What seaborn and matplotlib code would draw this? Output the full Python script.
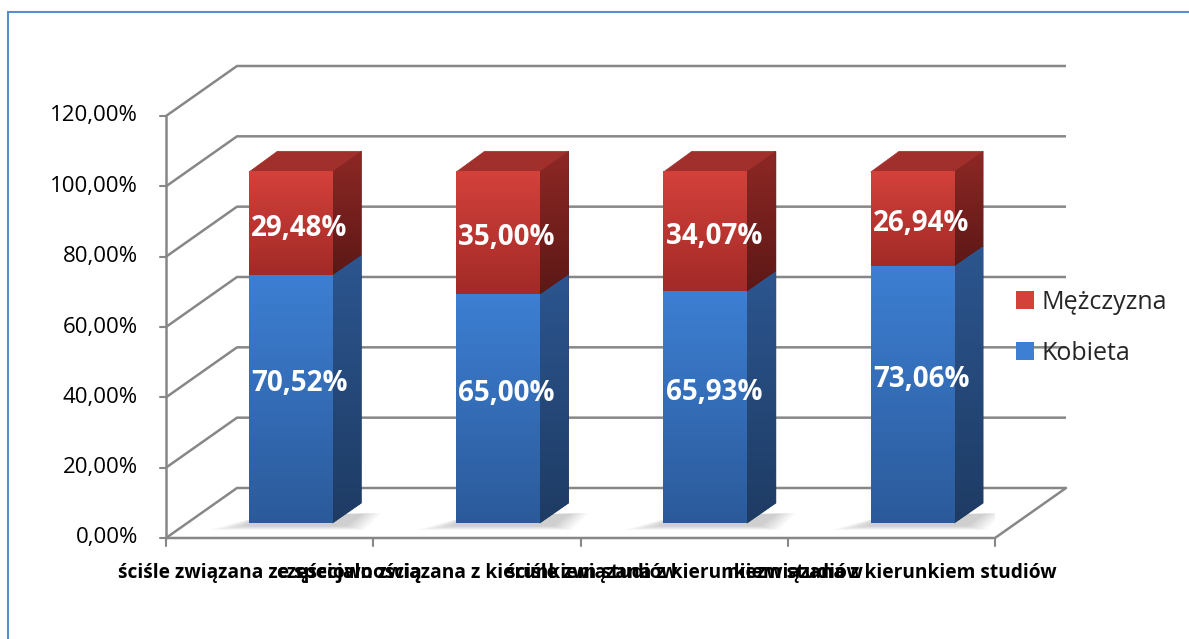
import numpy as np
import pandas as pd
import seaborn as sns
import matplotlib.pyplot as plt
from matplotlib.patches import Polygon, Rectangle, Patch
from matplotlib.colors import LinearSegmentedColormap

# chart data
categories = [
    "ściśle związana ze specjalnością",
    "częściowo związana z kierunkiem studiów",
    "ściśle związana z kierunkiem studiów",
    "niezwiązana z kierunkiem studiów",
]
kobieta = [70.52, 65.00, 65.93, 73.06]
mezczyzna = [29.48, 35.00, 34.07, 26.94]
y_ticks = [0, 20, 40, 60, 80, 100, 120]
series_names = ["Mężczyzna", "Kobieta"]

df = pd.DataFrame({"cat": categories, "kobieta": kobieta, "mezczyzna": mezczyzna})
df["total"] = df["kobieta"] + df["mezczyzna"]

# 3d look: depth offset of the back wall in data units
DX = 0.3426
DY = 14.22
BAR_W = 0.405
D0, D1 = 0.3, 0.7  # bar depth range

RED_TOP, RED_BOT = "#d4413b", "#a22a27"
RED_SIDE_T, RED_SIDE_B = "#8e2825", "#5c1816"
RED_ROOF = "#a1302d"
BLUE_TOP, BLUE_BOT = "#3d7fd3", "#2b5a9a"
BLUE_SIDE_T, BLUE_SIDE_B = "#2c5690", "#1e3b63"
GRID = "#878787"

sns.set_style("white")
plt.rcParams["font.family"] = ["Open Sans", "DejaVu Sans"]

fig = plt.figure(figsize=(11.89, 6.39), dpi=100)
ax = fig.add_axes([166 / 1189, 101 / 639, 829 / 1189, 422 / 639])


def grad_poly(pts, c_top, c_bot, z, clip=None):
    if clip is None:
        clip = Polygon(pts, closed=True, facecolor=c_bot, edgecolor=c_bot, lw=0.6, zorder=z)
        ax.add_patch(clip)
    xs = [p[0] for p in pts]
    ys = [p[1] for p in pts]
    cmap = LinearSegmentedColormap.from_list("g", [c_bot, c_top])
    img = ax.imshow(np.linspace(0, 1, 256).reshape(-1, 1), cmap=cmap,
                    extent=[min(xs), max(xs), min(ys), max(ys)], origin="lower",
                    aspect="auto", zorder=z + 0.01, interpolation="bilinear")
    img.set_clip_path(clip)


# walls + floor
for t in y_ticks:
    ax.plot([-0.5, -0.5 + DX, 3.5 + DX], [t, t + DY, t + DY], color=GRID, lw=1.8,
            clip_on=False, zorder=1, solid_capstyle="butt")
ax.plot([-0.5, 3.5, 3.5 + DX], [0, 0, DY], color=GRID, lw=1.8, clip_on=False, zorder=1)
ax.plot([-0.5, -0.5], [0, 120], color=GRID, lw=1.8, clip_on=False, zorder=1)
for t in y_ticks:
    ax.plot([-0.53, -0.5], [t, t], color=GRID, lw=1.5, clip_on=False, zorder=1)
    ax.text(-0.635, t, f"{t:.2f}%".replace(".", ","), ha="right", va="center",
            fontsize=16, color="black")
for b in np.arange(-0.5, 4.0, 1.0):
    ax.plot([b, b], [0, -2.4], color=GRID, lw=1.5, clip_on=False, zorder=1)
for i, c in enumerate(categories):
    ax.text(i, -10, c, ha="center", va="center", fontsize=13.8, fontweight="bold",
            color="black")

# front faces through seaborn
sns.barplot(x=df["cat"], y=df["total"], order=categories, color=RED_BOT,
            width=BAR_W, saturation=1, linewidth=0, ax=ax, zorder=4)
sns.barplot(x=df["cat"], y=df["kobieta"], order=categories, color=BLUE_BOT,
            width=BAR_W, saturation=1, linewidth=0, ax=ax, zorder=4)
red_bars = list(ax.containers[0])
blue_bars = list(ax.containers[1])

for i in range(len(categories)):
    rb, bb = red_bars[i], blue_bars[i]
    x0 = rb.get_x() + D0 * DX
    lo = D0 * DY
    k, m = kobieta[i], mezczyzna[i]
    bb.set_x(x0); bb.set_y(lo); bb.set_height(k)
    rb.set_x(x0); rb.set_y(lo + k); rb.set_height(m)
    xr = x0 + BAR_W
    ddx, ddy = (D1 - D0) * DX, (D1 - D0) * DY

    # soft floor shadow
    for s in range(8):
        e = 0.006 * (s + 1)
        ax.add_patch(Polygon([(x0 - e * 4, lo - 0.8 - e * 25), (xr + ddx * 0.4 + e * 2, lo - 0.8 - e * 25),
                              (xr + ddx + e * 2, lo + ddy * 0.5), (x0 + ddx * 0.3, lo + ddy * 0.3)],
                             closed=True, facecolor="#000000", alpha=0.022,
                             edgecolor="none", zorder=2))

    # side faces
    grad_poly([(xr - 0.002, lo), (xr + ddx, lo + ddy), (xr + ddx, lo + k + ddy), (xr - 0.002, lo + k)],
              BLUE_SIDE_T, BLUE_SIDE_B, 3)
    grad_poly([(xr - 0.002, lo + k), (xr + ddx, lo + k + ddy), (xr + ddx, lo + k + m + ddy),
               (xr - 0.002, lo + k + m)], RED_SIDE_T, RED_SIDE_B, 3)
    # top face
    ax.add_patch(Polygon([(x0, lo + k + m - 0.2), (xr, lo + k + m - 0.2), (xr + ddx, lo + k + m + ddy),
                          (x0 + ddx, lo + k + m + ddy)], closed=True, facecolor=RED_ROOF,
                         edgecolor=RED_ROOF, lw=0.5, zorder=3))
    # front gradients
    grad_poly([(x0, lo), (xr, lo + k)], BLUE_TOP, BLUE_BOT, 4, clip=bb)
    grad_poly([(x0, lo + k), (xr, lo + k + m)], RED_TOP, RED_BOT, 4, clip=rb)

    # value labels
    cx = i + 0.42 * DX
    ax.text(cx, k / 2 + 0.6 * DY, f"{k:.2f}%".replace(".", ","), ha="center",
            va="center", color="white", fontsize=20, fontweight="bold", zorder=6)
    ax.text(cx, k + m / 2 + 0.2 * DY, f"{m:.2f}%".replace(".", ","), ha="center",
            va="center", color="white", fontsize=20, fontweight="bold", zorder=6)

ax.set_xlim(-0.5, 3.5)
ax.set_ylim(0, 120)
ax.set_axis_off()

# legend
handles = [Patch(facecolor=RED_TOP, edgecolor="none"), Patch(facecolor=BLUE_TOP, edgecolor="none")]
fig.legend(handles, series_names, loc="center left",
           bbox_to_anchor=(1003 / 1189, 1 - 328 / 639), frameon=False,
           fontsize=18, handlelength=0.72, handleheight=0.72, handletextpad=0.33,
           labelspacing=1.05, borderpad=0)

# outer border (only left and top visible)
fig.add_artist(Rectangle((8 / 1189, -0.2), 1.2, 1.2 - 12 / 639, transform=fig.transFigure,
                         fill=False, edgecolor="#5b8ccb", lw=1.5))

fig.savefig("out.png", dpi=100)
